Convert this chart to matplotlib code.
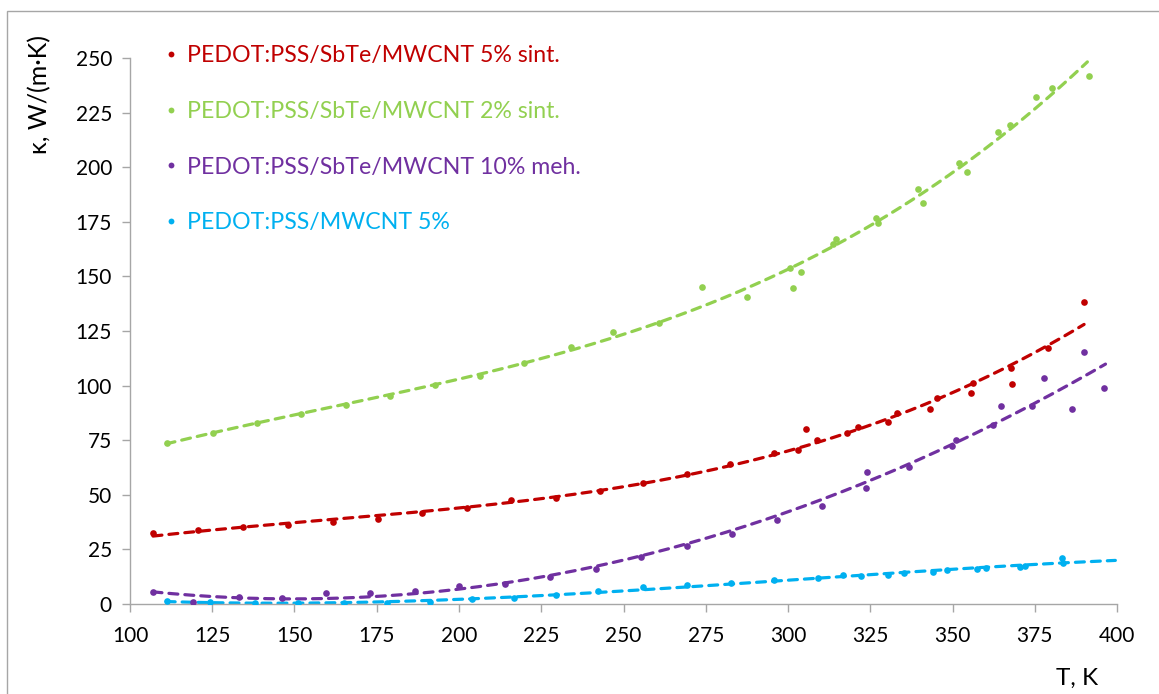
import numpy as np
import matplotlib
matplotlib.use("Agg")
import matplotlib.pyplot as plt
from matplotlib.lines import Line2D
from matplotlib.patches import Rectangle

plt.rcParams['font.family'] = ['Lato', 'DejaVu Sans']

# ---- data: thermal conductivity vs temperature ----
labels = [
    "PEDOT:PSS/SbTe/MWCNT 5% sint.",
    "PEDOT:PSS/SbTe/MWCNT 2% sint.",
    "PEDOT:PSS/SbTe/MWCNT 10% meh.",
    "PEDOT:PSS/MWCNT 5%",
]
colors = ["#C00000", "#92D050", "#7030A0", "#00B0F0"]

t_red = [107.1, 120.8, 134.4, 148.1, 161.8, 175.5, 188.9, 202.3, 215.7, 229.5,
         242.9, 256.0, 269.2, 282.4, 295.6, 302.9, 305.6, 308.8, 317.8, 321.4,
         330.5, 333.0, 343.2, 345.2, 355.6, 356.3, 367.7, 368.0, 379.1, 390.0]
k_red = [32.4, 33.9, 35.1, 36.2, 37.7, 38.9, 41.5, 43.8, 47.6, 48.7,
         51.7, 55.6, 59.5, 63.9, 69.3, 70.5, 80.0, 75.0, 78.1, 81.2,
         83.5, 87.3, 89.5, 94.2, 96.6, 101.0, 107.9, 100.6, 117.1, 138.1]

t_green = [111.1, 125.1, 138.5, 152.1, 165.7, 179.0, 192.7, 206.5, 219.9, 234.0,
           246.9, 260.8, 273.9, 287.4, 300.6, 301.6, 303.8, 313.6, 314.5, 326.7,
           327.5, 339.4, 340.9, 352.0, 354.3, 363.7, 367.5, 375.3, 380.1, 391.6]
k_green = [73.6, 78.5, 83.0, 86.8, 91.1, 95.2, 100.3, 104.6, 110.5, 117.5,
           124.4, 128.5, 145.1, 140.4, 153.7, 144.7, 152.2, 164.8, 167.1, 176.7,
           174.3, 189.9, 183.5, 202.1, 197.7, 216.1, 219.2, 232.3, 236.3, 241.9]

t_purple = [107.0, 119.2, 133.0, 146.1, 159.6, 172.9, 186.6, 200.1, 214.0, 227.7,
            241.5, 255.3, 269.4, 283.0, 296.8, 310.2, 323.6, 323.9, 336.9, 349.7,
            351.2, 362.2, 364.6, 374.2, 377.9, 386.2, 390.0, 396.0]
k_purple = [5.5, 1.1, 3.0, 2.6, 4.9, 5.2, 6.1, 8.2, 9.0, 12.5,
            15.9, 21.7, 26.6, 32.0, 38.5, 45.0, 53.3, 60.3, 62.9, 72.3,
            75.1, 82.0, 90.8, 90.8, 103.5, 89.5, 115.5, 99.0]

t_cyan = [111.1, 124.3, 138.0, 151.2, 164.9, 178.0, 191.2, 203.8, 216.8, 229.5,
          242.4, 256.0, 269.4, 282.6, 295.7, 309.2, 316.8, 322.2, 330.5, 335.3,
          344.0, 348.2, 357.3, 360.2, 370.5, 372.0, 383.4, 383.7]
k_cyan = [1.4, 1.1, 0.3, 0.3, 0.3, 0.3, 1.1, 2.1, 2.6, 4.1,
          6.1, 7.9, 8.7, 9.5, 11.0, 11.7, 13.3, 12.8, 13.3, 14.0,
          14.5, 15.6, 15.9, 16.3, 17.1, 17.4, 21.2, 18.9]

series_t = [t_red, t_green, t_purple, t_cyan]
series_k = [k_red, k_green, k_purple, k_cyan]

# extent of each polynomial trend line (K) and its order
trend_ranges = [(107, 390), (111, 391), (107, 396.5), (111, 399.5)]
trend_order = [3, 3, 2, 3]

x_ticks = list(range(100, 401, 25))
y_ticks = list(range(0, 251, 25))

# ---- figure ----
W, H = 1159, 694
fig = plt.figure(figsize=(W / 100, H / 100), dpi=100)
fig.patch.set_facecolor("white")

# outer chart frame
fig.patches.append(Rectangle((7 / W, -0.05), 1.2, (H - 11) / H + 0.05,
                             transform=fig.transFigure, fill=False,
                             edgecolor="#A6A6A6", linewidth=1.0))

ax = fig.add_axes([130 / W, 1 - 604 / H, 987 / W, 546 / H])

handles = []
for t, k, c, lab, (t0, t1), deg in zip(series_t, series_k, colors, labels,
                                        trend_ranges, trend_order):
    t = np.asarray(t)
    k = np.asarray(k)
    coef = np.polyfit(t, k, deg)
    tt = np.linspace(t0, t1, 300)
    ax.plot(tt, np.polyval(coef, tt), color=c, lw=2.3, linestyle=(0, (2.8, 2.2)),
            dash_capstyle="round", zorder=2)
    ax.plot(t, k, "o", color=c, markersize=4.8, markeredgewidth=0, zorder=3)
    handles.append(Line2D([], [], marker="o", linestyle="none", color=c,
                          markersize=4.2, markeredgewidth=0, label=lab))

ax.set_xlim(100, 400)
ax.set_ylim(0, 250)
ax.set_xticks(x_ticks)
ax.set_yticks(y_ticks)

for side in ("top", "right"):
    ax.spines[side].set_visible(False)
for side in ("left", "bottom"):
    ax.spines[side].set_color("#A6A6A6")
    ax.spines[side].set_linewidth(1.0)
ax.tick_params(axis="both", direction="out", length=6, width=1.0,
               color="#A6A6A6", labelsize=15, labelcolor="black")
ax.tick_params(axis="x", pad=10)
ax.tick_params(axis="y", pad=7)

fig.text(40 / W, 1 - 95 / H, "κ, W/(m·K)", rotation=90, ha="center", va="center",
         fontsize=18, color="black")
fig.text(1077 / W, 1 - 678 / H, "T, K", ha="center", va="center",
         fontsize=17.5, color="black")

leg = ax.legend(handles=handles, loc="upper left", bbox_to_anchor=(0.025, 1.04),
                frameon=False, fontsize=16.7, labelcolor=colors,
                handlelength=0.6, handletextpad=0.4, labelspacing=1.49,
                borderaxespad=0)

fig.savefig("out.png", dpi=100, facecolor="white")
